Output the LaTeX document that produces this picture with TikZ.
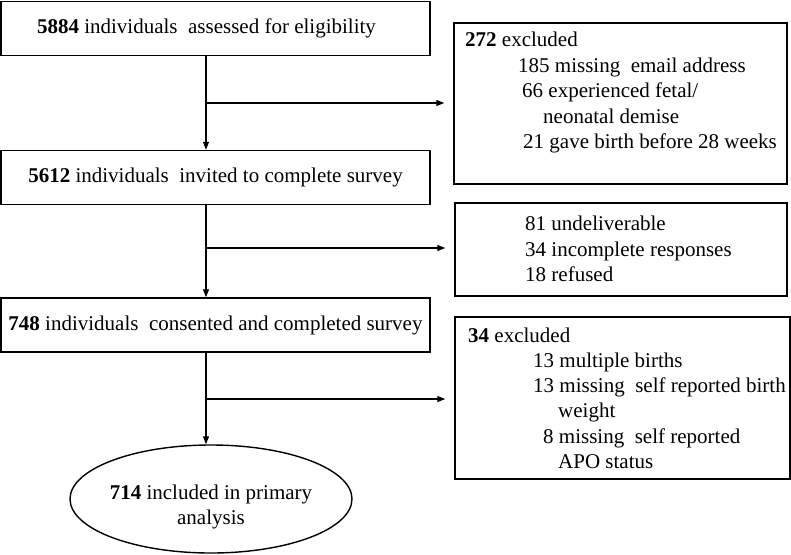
\documentclass[tikz,border=0pt]{standalone}
\usepackage{fontspec}
\setmainfont{Liberation Serif}
\usetikzlibrary{shapes.geometric,arrows.meta}
\begin{document}
\begin{tikzpicture}[x=1pt,y=-1pt,
  every node/.style={font=\fontsize{21}{25.5}\selectfont},
  mainbox/.style={draw,line width=1.4pt,inner sep=0pt,minimum width=429pt,minimum height=54pt},
  sidebox/.style={draw,line width=1.4pt,inner sep=0pt},
  ln/.style={anchor=base west,inner sep=0pt},
  conn/.style={line width=1.2pt},
  arr/.style={conn,-{Triangle[length=8pt,width=6pt]}}]
\useasboundingbox (0,0) rectangle (791,554);

% main column
\node[mainbox] (b1) at (215.5,28.5) {\textbf{5884} individuals\hspace{0.5em}assessed for eligibility\kern18pt\null};
\node[mainbox] (b2) at (215.5,177.5) {\textbf{5612} individuals\hspace{0.5em}invited to complete survey};
\node[mainbox] (b3) at (215.5,325) {\textbf{748} individuals\hspace{0.5em}consented and completed survey};
\node[ellipse,draw,line width=1.4pt,minimum width=282pt,minimum height=108pt,inner sep=0pt] (e) at (211,499) {};
\node[align=center,inner sep=0pt] (et) at (211,507) {\textbf{714} included in primary\\analysis};

% side boxes
\node[sidebox,minimum width=333pt,minimum height=161pt] (x1) at (620.5,103.5) {};
\node[sidebox,minimum width=332pt,minimum height=93pt] (x2) at (621,249.5) {};
\node[sidebox,minimum width=335pt,minimum height=162pt] (x3) at (622.5,398) {};

\node[ln] (t11) at (465,46) {\textbf{272} excluded};
\node[ln] (t12) at (518,72) {185 missing\hspace{0.5em}email address};
\node[ln] (t13) at (522,97) {66 experienced fetal/};
\node[ln] (t14) at (543,123) {neonatal demise};
\node[ln] (t15) at (523,148) {21 gave birth before 28 weeks};

\node[ln] (t21) at (525,230) {81 undeliverable};
\node[ln] (t22) at (525,256) {34 incomplete responses};
\node[ln] (t23) at (525,281) {18 refused};

\node[ln] (t31) at (468,342) {\textbf{34} excluded};
\node[ln] (t32) at (533,367) {13 multiple births};
\node[ln] (t33) at (533,392) {13 missing\hspace{0.5em}self reported birth};
\node[ln] (t34) at (558,417) {weight};
\node[ln] (t35) at (543,443) {8 missing\hspace{0.5em}self reported};
\node[ln] (t36) at (558,468) {APO status};

% connectors
\coordinate (j1) at (206,103);
\coordinate (j2) at (206,248);
\coordinate (j3) at (206,399);
\draw[arr] (j1 |- b1.south) -- (j1 |- b2.north);
\draw[arr] (j2 |- b2.south) -- (j2 |- b3.north);
\draw[arr] (j3 |- b3.south) -- (j3 |- e.north);
\draw[arr,shorten >=9pt] (j1) -- (j1 -| x1.west);
\draw[arr,shorten >=9pt] (j2) -- (j2 -| x2.west);
\draw[arr,shorten >=9pt] (j3) -- (j3 -| x3.west);
\end{tikzpicture}
\end{document}
